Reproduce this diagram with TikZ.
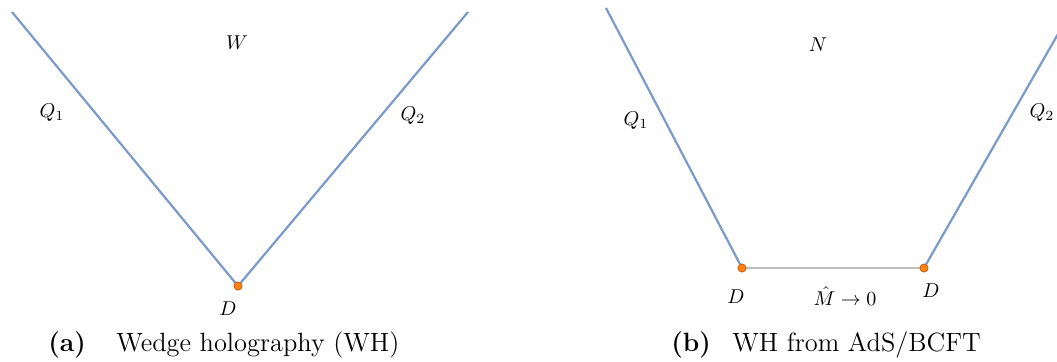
\documentclass[tikz,border=0pt]{standalone}
\usetikzlibrary{calc}
\definecolor{lineblue}{RGB}{122,153,204}
\definecolor{dotorange}{RGB}{255,130,20}
\definecolor{dotedge}{RGB}{200,90,10}
\definecolor{basegray}{RGB}{190,190,190}
\begin{document}
\begin{tikzpicture}[x=0.5pt,y=-0.5pt,
  wall/.style={draw=lineblue,line width=1.1pt},
  base/.style={draw=basegray,line width=1.1pt},
  dotpt/.style={circle,fill=dotorange,draw=dotedge,line width=0.3pt,inner sep=0pt,minimum size=4pt},
  lab/.style={inner sep=0pt,font=\normalsize},
  captext/.style={inner sep=0pt,anchor=base west,font=\fontsize{13.2}{16}\selectfont}]
\useasboundingbox (0,0) rectangle (1057,361);
\clip (0,0) rectangle (1057,361);
% panel (a)
\coordinate (a1) at (12,12);
\coordinate (a3) at (468,12);
\node[dotpt] (aD) at (238,286) {};
\draw[wall] (a1) -- (aD.center) -- (a3);
\node[dotpt] at (238,286) {};
\node[lab] (W) at (237,43) {$W$};
\node[lab] (aQ1) at (52,113) {$Q_1$};
\node[lab] (aQ2) at (413,116) {$Q_2$};
\node[lab] (aDl) at (228,309) {$D$};
% panel (b)
\coordinate (b1) at (606,8);
\coordinate (b4) at (1066,20);
\node[dotpt] (bD1) at (742,268) {};
\node[dotpt] (bD2) at (924,268) {};
\draw[wall] (b1) -- (bD1.center);
\draw[wall] (bD2.center) -- (b4);
\draw[base] (bD1.center) -- (bD2.center);
\node[dotpt] at (742,268) {};
\node[dotpt] at (924,268) {};
\node[lab] (N) at (818,45) {$N$};
\node[lab] (bQ1) at (636,121) {$Q_1$};
\node[lab] (bQ2) at (1042,113) {$Q_2$};
\node[lab] (bDl1) at (736,297) {$D$};
\node[lab] (M) at (845,296) {$\hat{M}\to 0$};
\node[lab] (bDl2) at (931,291) {$D$};
% captions
\node[captext] (caL) at (48,351) {\textbf{(a)}};
\node[captext] (ca) at (116,351) {Wedge holography (WH)};
\node[captext] (cbL) at (671,351) {\textbf{(b)}};
\node[captext] (cb) at (732,351) {WH from AdS/BCFT};
\end{tikzpicture}
\end{document}
